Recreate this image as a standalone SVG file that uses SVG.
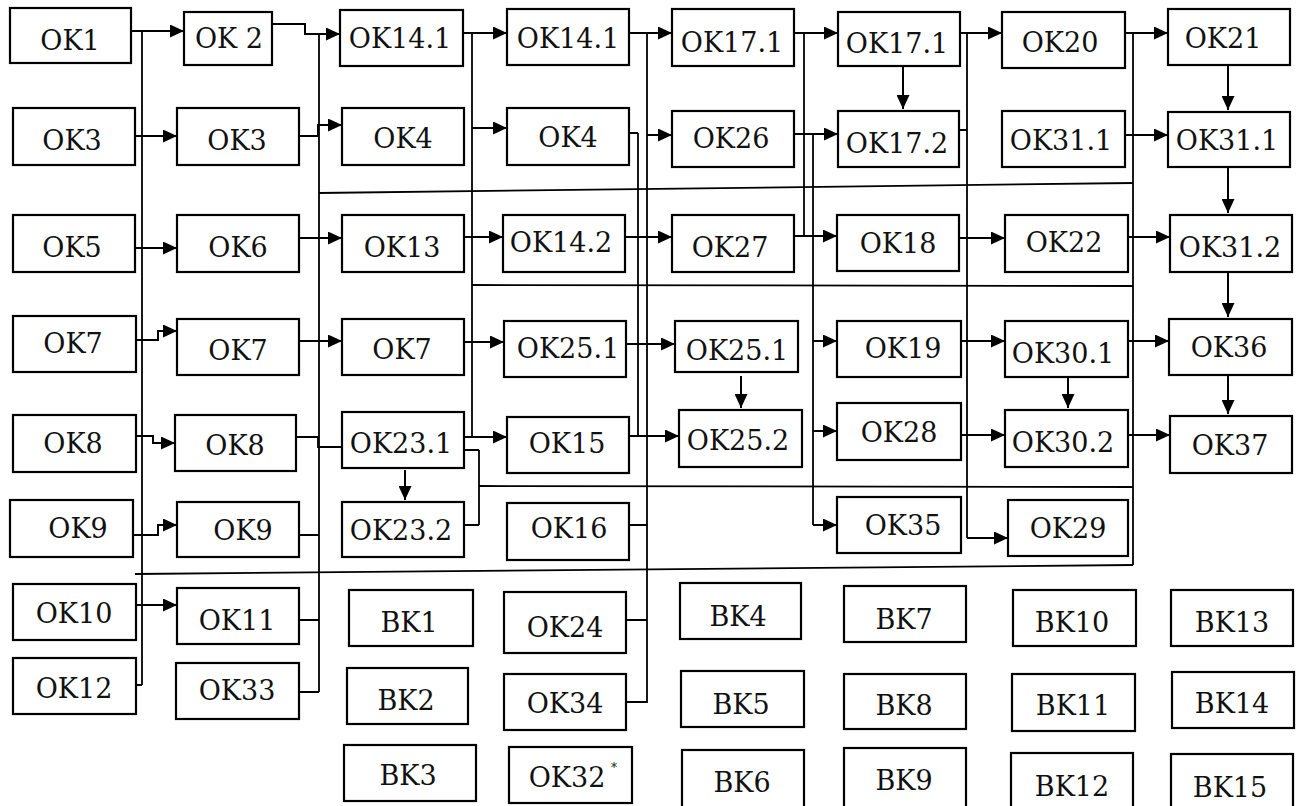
<svg xmlns="http://www.w3.org/2000/svg" width="1300" height="806" viewBox="0 0 1300 806">
<defs>
<marker id="ah" markerUnits="userSpaceOnUse" markerWidth="15" markerHeight="13" refX="14" refY="6.5" orient="auto">
<path d="M0,0 L14,6.5 L0,13 z" fill="#000"/>
</marker>
<style>
rect{fill:#fff;stroke:#000;stroke-width:2.2}
text{font-family:"DejaVu Serif","Liberation Serif",serif;font-size:27px;fill:#111;text-anchor:middle}
.ln{fill:none;stroke:#000;stroke-width:1.8}
.ar{fill:none;stroke:#000;stroke-width:2;marker-end:url(#ah)}
.sup{font-size:12px}
</style>
</defs>
<rect x="0" y="0" width="1300" height="806" style="fill:#fff;stroke:none"/>
<g id="connectors">
<path class="ln" d="M142,30 V685 M136,685 H142"/>
<path class="ln" d="M319,34 V692 M299,620 H319 M299,692 H319 M299,535 H319"/>
<path class="ln" d="M296,437 H318 V447 H342"/>
<path class="ln" d="M319,193 L1133,183"/>
<path class="ln" d="M472,33 V437"/>
<path class="ln" d="M472,285 L1133,286"/>
<path class="ln" d="M479,450 V525 M464,450 H479 M464,525 H479"/>
<path class="ln" d="M479,486 L1133,487"/>
<path class="ln" d="M638,133 V436 M629,133 H638"/>
<path class="ln" d="M647,33 V703 M629,525 H647 M626,620 H647 M626,702 H647"/>
<path class="ln" d="M804,33 V237"/>
<path class="ln" d="M813,134 V525"/>
<path class="ln" d="M967,33 V538 M959,130 H967"/>
<path class="ln" d="M1133,33 V565"/>
<path class="ln" d="M135,574 L1133,565"/>
<path class="ar" d="M131,31 H184"/>
<path class="ar" d="M135,136 H177"/>
<path class="ar" d="M135,248 H177"/>
<path class="ar" d="M136,340 H158 V331 H177"/>
<path class="ar" d="M136,436 H153 V443 H175"/>
<path class="ar" d="M133,535 H158 V525 H177"/>
<path class="ar" d="M136,605 H177"/>
<path class="ar" d="M272,24 H305 V34 H340"/>
<path class="ar" d="M299,136 H318 V125 H342"/>
<path class="ar" d="M299,238 H342"/>
<path class="ar" d="M299,341 H342"/>
<path class="ar" d="M463,33 H507"/>
<path class="ar" d="M472,128 H507"/>
<path class="ar" d="M464,237 H503"/>
<path class="ar" d="M464,342 H504"/>
<path class="ar" d="M464,437 H507"/>
<path class="ar" d="M405,470 V500"/>
<path class="ar" d="M629,33 H672"/>
<path class="ar" d="M647,135 H672"/>
<path class="ar" d="M625,237 H672"/>
<path class="ar" d="M626,344 H675"/>
<path class="ar" d="M629,436 H679"/>
<path class="ar" d="M741,376 V408"/>
<path class="ar" d="M794,33 H838"/>
<path class="ar" d="M794,134 H838"/>
<path class="ar" d="M794,236 H837"/>
<path class="ar" d="M813,341 H837"/>
<path class="ar" d="M813,431 H837"/>
<path class="ar" d="M813,525 H837"/>
<path class="ar" d="M903,66 V109"/>
<path class="ar" d="M960,33 H1002"/>
<path class="ar" d="M959,238 H1005"/>
<path class="ar" d="M961,341 H1005"/>
<path class="ar" d="M961,435 H1005"/>
<path class="ar" d="M967,538 H1008"/>
<path class="ar" d="M1068,377 V408"/>
<path class="ar" d="M1125,33 H1168"/>
<path class="ar" d="M1125,135 H1168"/>
<path class="ar" d="M1128,237 H1170"/>
<path class="ar" d="M1128,341 H1169"/>
<path class="ar" d="M1128,435 H1170"/>
<path class="ar" d="M1228,65 V110"/>
<path class="ar" d="M1228,167 V213"/>
<path class="ar" d="M1228,272 V317"/>
<path class="ar" d="M1228,375 V414"/>
</g>
<g id="nodes">
<g id="ok1"><rect x="10" y="8" width="121" height="55"/><text x="70" y="50">OK1</text></g>
<g id="ok3a"><rect x="13" y="108" width="122" height="57"/><text x="72" y="150">OK3</text></g>
<g id="ok5"><rect x="13" y="215" width="122" height="57"/><text x="72" y="257">OK5</text></g>
<g id="ok7a"><rect x="13" y="316" width="123" height="56"/><text x="73" y="353">OK7</text></g>
<g id="ok8a"><rect x="13" y="415" width="123" height="57"/><text x="73" y="453">OK8</text></g>
<g id="ok9a"><rect x="10" y="500" width="123" height="57"/><text x="78" y="538">OK9</text></g>
<g id="ok10"><rect x="13" y="584" width="123" height="56"/><text x="74" y="623">OK10</text></g>
<g id="ok12"><rect x="13" y="658" width="123" height="56"/><text x="74" y="698">OK12</text></g>
<g id="ok2"><rect x="184" y="12" width="88" height="53"/><text x="229" y="48">OK 2</text></g>
<g id="ok3b"><rect x="177" y="108" width="122" height="57"/><text x="237" y="150">OK3</text></g>
<g id="ok6"><rect x="177" y="215" width="122" height="57"/><text x="238" y="257">OK6</text></g>
<g id="ok7b"><rect x="177" y="319" width="122" height="56"/><text x="238" y="360">OK7</text></g>
<g id="ok8b"><rect x="175" y="415" width="121" height="56"/><text x="235" y="455">OK8</text></g>
<g id="ok9b"><rect x="177" y="502" width="122" height="55"/><text x="243" y="540">OK9</text></g>
<g id="ok11"><rect x="177" y="588" width="122" height="56"/><text x="237" y="630">OK11</text></g>
<g id="ok33"><rect x="176" y="663" width="123" height="56"/><text x="237" y="700">OK33</text></g>
<g id="ok14_1a"><rect x="340" y="10" width="123" height="56"/><text x="400" y="48">OK14.1</text></g>
<g id="ok4a"><rect x="342" y="108" width="122" height="57"/><text x="403" y="148">OK4</text></g>
<g id="ok13"><rect x="342" y="215" width="122" height="57"/><text x="402" y="257">OK13</text></g>
<g id="ok7c"><rect x="342" y="319" width="122" height="56"/><text x="402" y="359">OK7</text></g>
<g id="ok23_1"><rect x="342" y="412" width="122" height="56"/><text x="401" y="453">OK23.1</text></g>
<g id="ok23_2"><rect x="342" y="502" width="122" height="55"/><text x="401" y="540">OK23.2</text></g>
<g id="bk1"><rect x="349" y="590" width="124" height="56"/><text x="409" y="632">BK1</text></g>
<g id="bk2"><rect x="347" y="668" width="121" height="56"/><text x="406" y="710">BK2</text></g>
<g id="bk3"><rect x="344" y="745" width="132" height="56"/><text x="408" y="785">BK3</text></g>
<g id="ok14_1b"><rect x="507" y="9" width="122" height="56"/><text x="568" y="48">OK14.1</text></g>
<g id="ok4b"><rect x="507" y="108" width="122" height="57"/><text x="568" y="147">OK4</text></g>
<g id="ok14_2"><rect x="503" y="215" width="122" height="57"/><text x="561" y="252">OK14.2</text></g>
<g id="ok25_1a"><rect x="504" y="321" width="122" height="56"/><text x="568" y="358">OK25.1</text></g>
<g id="ok15"><rect x="507" y="417" width="122" height="56"/><text x="567" y="453">OK15</text></g>
<g id="ok16"><rect x="507" y="503" width="122" height="57"/><text x="569" y="538">OK16</text></g>
<g id="ok24"><rect x="504" y="592" width="122" height="61"/><text x="565" y="637">OK24</text></g>
<g id="ok34"><rect x="504" y="674" width="122" height="56"/><text x="565" y="713">OK34</text></g>
<g id="ok32"><rect x="509" y="747" width="123" height="56"/><text x="567" y="787">OK32</text><text class="sup" x="614" y="772">*</text></g>
<g id="ok17_1a"><rect x="672" y="9" width="122" height="57"/><text x="732" y="52">OK17.1</text></g>
<g id="ok26"><rect x="672" y="111" width="122" height="56"/><text x="731" y="148">OK26</text></g>
<g id="ok27"><rect x="672" y="215" width="122" height="57"/><text x="730" y="257">OK27</text></g>
<g id="ok25_1b"><rect x="675" y="321" width="123" height="51"/><text x="737" y="360">OK25.1</text></g>
<g id="ok25_2"><rect x="679" y="410" width="123" height="57"/><text x="738" y="450">OK25.2</text></g>
<g id="bk4"><rect x="680" y="583" width="121" height="56"/><text x="738" y="626">BK4</text></g>
<g id="bk5"><rect x="681" y="671" width="123" height="56"/><text x="741" y="714">BK5</text></g>
<g id="bk6"><rect x="682" y="750" width="122" height="60"/><text x="742" y="792">BK6</text></g>
<g id="ok17_1b"><rect x="838" y="12" width="122" height="54"/><text x="897" y="53">OK17.1</text></g>
<g id="ok17_2"><rect x="838" y="111" width="121" height="56"/><text x="897" y="153">OK17.2</text></g>
<g id="ok18"><rect x="837" y="215" width="122" height="56"/><text x="898" y="253">OK18</text></g>
<g id="ok19"><rect x="837" y="321" width="124" height="56"/><text x="903" y="358">OK19</text></g>
<g id="ok28"><rect x="837" y="403" width="124" height="57"/><text x="899" y="442">OK28</text></g>
<g id="ok35"><rect x="837" y="497" width="124" height="56"/><text x="903" y="535">OK35</text></g>
<g id="bk7"><rect x="844" y="586" width="122" height="56"/><text x="904" y="629">BK7</text></g>
<g id="bk8"><rect x="844" y="674" width="122" height="55"/><text x="904" y="715">BK8</text></g>
<g id="bk9"><rect x="844" y="748" width="122" height="62"/><text x="904" y="790">BK9</text></g>
<g id="ok20"><rect x="1002" y="12" width="123" height="56"/><text x="1060" y="52">OK20</text></g>
<g id="ok31_1a"><rect x="1002" y="111" width="123" height="56"/><text x="1061" y="150">OK31.1</text></g>
<g id="ok22"><rect x="1005" y="215" width="123" height="57"/><text x="1064" y="252">OK22</text></g>
<g id="ok30_1"><rect x="1005" y="321" width="123" height="56"/><text x="1063" y="363">OK30.1</text></g>
<g id="ok30_2"><rect x="1005" y="410" width="123" height="57"/><text x="1063" y="452">OK30.2</text></g>
<g id="ok29"><rect x="1008" y="500" width="120" height="56"/><text x="1068" y="538">OK29</text></g>
<g id="bk10"><rect x="1013" y="590" width="123" height="56"/><text x="1072" y="632">BK10</text></g>
<g id="bk11"><rect x="1012" y="674" width="123" height="57"/><text x="1073" y="715">BK11</text></g>
<g id="bk12"><rect x="1011" y="753" width="122" height="57"/><text x="1072" y="796">BK12</text></g>
<g id="ok21"><rect x="1168" y="9" width="122" height="56"/><text x="1223" y="48">OK21</text></g>
<g id="ok31_1b"><rect x="1168" y="112" width="122" height="55"/><text x="1227" y="150">OK31.1</text></g>
<g id="ok31_2"><rect x="1170" y="215" width="122" height="57"/><text x="1230" y="257">OK31.2</text></g>
<g id="ok36"><rect x="1169" y="319" width="123" height="56"/><text x="1229" y="357">OK36</text></g>
<g id="ok37"><rect x="1170" y="416" width="122" height="57"/><text x="1230" y="455">OK37</text></g>
<g id="bk13"><rect x="1171" y="590" width="122" height="56"/><text x="1232" y="632">BK13</text></g>
<g id="bk14"><rect x="1172" y="672" width="122" height="56"/><text x="1232" y="713">BK14</text></g>
<g id="bk15"><rect x="1171" y="754" width="122" height="56"/><text x="1230" y="797">BK15</text></g>
</g>
</svg>
